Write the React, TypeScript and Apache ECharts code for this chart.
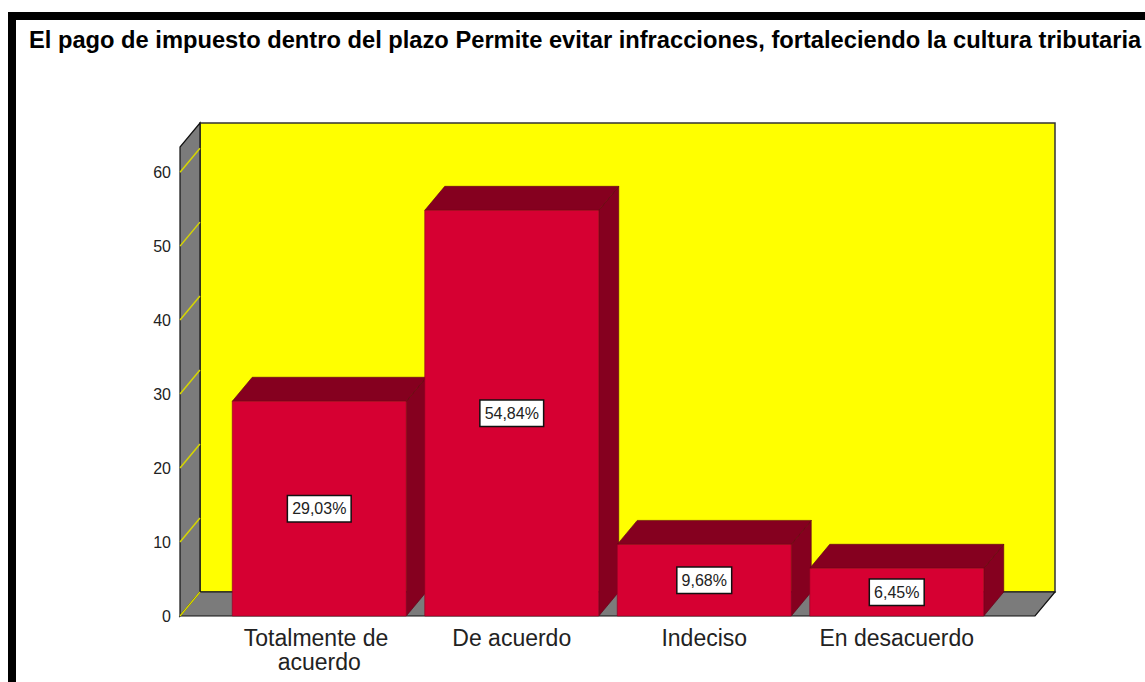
import React, { useEffect, useRef } from "react";
import * as echarts from "echarts";

const titleText =
  "El pago de impuesto dentro del plazo Permite evitar infracciones, fortaleciendo la cultura tributaria";
const categories = ["Totalmente de acuerdo", "De acuerdo", "Indeciso", "En desacuerdo"];
const percentages = [29.03, 54.84, 9.68, 6.45];
const yTicks = [0, 10, 20, 30, 40, 50, 60];
const yMax = 63.4;

const FONT = '"Liberation Sans", Arial, sans-serif';
const DX = 20;
const DY = -24;
const PAD_L = 43;
const PAD_R = 42;

export default function App() {
  const ref = useRef<HTMLDivElement>(null);

  useEffect(() => {
    if (!ref.current) return;
    const chart = echarts.init(ref.current, undefined, { renderer: "svg" });

    const wallsRender = (params: any, api: any) => {
      const cs = params.coordSys;
      const fl = cs.x - PAD_L;
      const fr = cs.x + cs.width + PAD_R;
      const y0 = api.coord([0, 0])[1];
      const yt = cs.y;
      const children: any[] = [
        {
          type: "rect",
          shape: { x: fl + DX, y: yt + DY, width: fr - fl, height: y0 - yt },
          style: { fill: "#ffff00", stroke: "#333", lineWidth: 1.5 },
        },
        {
          type: "polygon",
          shape: { points: [[fl, y0], [fl + DX, y0 + DY], [fl + DX, yt + DY], [fl, yt]] },
          style: { fill: "#7b7b7b", stroke: "#111", lineWidth: 1.2 },
        },
        {
          type: "polygon",
          shape: { points: [[fl, y0], [fr, y0], [fr + DX, y0 + DY], [fl + DX, y0 + DY]] },
          style: { fill: "#7b7b7b", stroke: "#111", lineWidth: 1.2 },
        },
      ];
      yTicks.forEach((t) => {
        const y = api.coord([0, t])[1];
        children.push({
          type: "line",
          shape: { x1: fl, y1: y, x2: fl + DX, y2: y + DY },
          style: { stroke: "#d6d600", lineWidth: 1.5 },
        });
      });
      return { type: "group", children };
    };

    const barsRender = (params: any, api: any) => {
      const i = api.value(0);
      const v = api.value(1);
      const [cx, yv] = api.coord([i, v]);
      const y0 = api.coord([i, 0])[1];
      const bw = api.size([1, 0])[0] * 0.904;
      const x0 = cx - bw / 2;
      const x1 = cx + bw / 2;
      const dark = "#85001f";
      const front = "#d60032";
      const label = v.toFixed(2).replace(".", ",") + "%";
      return {
        type: "group",
        children: [
          {
            type: "polygon",
            shape: { points: [[x1, yv], [x1 + DX, yv + DY], [x1 + DX, y0 + DY], [x1, y0]] },
            style: { fill: dark, stroke: "#5a0014", lineWidth: 0.6 },
          },
          {
            type: "polygon",
            shape: { points: [[x0, yv], [x1, yv], [x1 + DX, yv + DY], [x0 + DX, yv + DY]] },
            style: { fill: dark, stroke: "#5a0014", lineWidth: 0.6 },
          },
          {
            type: "rect",
            shape: { x: x0, y: yv, width: bw, height: y0 - yv },
            style: { fill: front, stroke: "#8a0020", lineWidth: 0.6 },
          },
          {
            type: "text",
            x: cx,
            y: (yv + y0) / 2,
            style: {
              text: label,
              fill: "#222",
              font: "16px " + FONT,
              align: "center",
              verticalAlign: "middle",
              backgroundColor: "#fff",
              borderColor: "#111",
              borderWidth: 1.5,
              padding: [5, 4, 4, 4],
            },
          },
        ],
      };
    };

    chart.setOption({
      animation: false,
      backgroundColor: "#fff",
      title: {
        text: titleText,
        left: 29,
        top: 28,
        padding: 0,
        textStyle: { fontSize: 23.7, fontWeight: "bold", color: "#000", fontFamily: FONT },
      },
      graphic: [
        {
          type: "rect",
          shape: { x: 12, y: 16, width: 1300, height: 900 },
          style: { fill: "none", stroke: "#000", lineWidth: 8 },
          silent: true,
        },
      ],
      grid: { left: 223, right: 152, top: 147, bottom: 66 },
      xAxis: {
        type: "category",
        data: categories,
        axisLine: { show: false },
        axisTick: { show: false },
        axisLabel: {
          color: "#222",
          fontSize: 23,
          lineHeight: 24,
          fontFamily: FONT,
          margin: 10,
          width: 180,
          overflow: "break",
          interval: 0,
        },
      },
      yAxis: {
        type: "value",
        min: 0,
        max: yMax,
        interval: 10,
        axisLine: { show: false },
        axisTick: { show: false },
        splitLine: { show: false },
        axisLabel: {
          color: "#222",
          fontSize: 16,
          fontFamily: FONT,
          margin: 52,
          formatter: (val: number) => (yTicks.indexOf(val) >= 0 ? String(val) : ""),
        },
      },
      series: [
        {
          type: "custom",
          data: [[0, 0]],
          renderItem: wallsRender,
          silent: true,
          z: 1,
        },
        {
          type: "custom",
          data: percentages.map((v, i) => [i, v]),
          encode: { x: 0, y: 1 },
          renderItem: barsRender,
          z: 2,
        },
      ],
    });

    return () => chart.dispose();
  }, []);

  return (
    <div
      ref={ref}
      style={{ position: "absolute", left: 0, top: 0, width: 1145, height: 682 }}
    />
  );
}
